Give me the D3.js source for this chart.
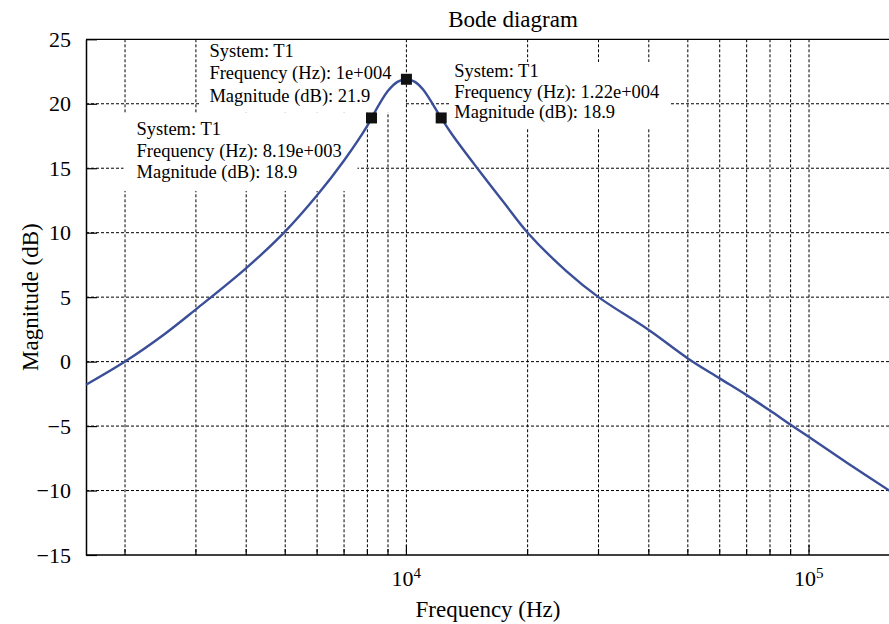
<!DOCTYPE html>
<html>
<head>
<meta charset="utf-8">
<script src="https://cdn.jsdelivr.net/npm/d3@7"></script>
<style>
  body { margin: 0; background: #fff; }
  svg { display: block; font-family: "Liberation Serif", "DejaVu Serif", serif; }
</style>
</head>
<body>
<svg id="chart" width="889" height="624"></svg>
<script>
// magnitude curve (Hz, dB)
const freqs = [1600, 2000, 2500, 3000, 4000, 5000, 6000, 7000, 8000, 8190, 9000, 9500, 10000,
               10500, 11000, 12200, 13000, 15000, 17500, 20000, 25000, 30000, 40000, 50000,
               60000, 70000, 80000, 90000, 100000, 125000, 160000];
const mags  = [-1.8, 0.0, 2.1, 4.05, 7.25, 10.1, 12.9, 15.6, 18.3, 18.9, 21.0, 21.7, 21.9,
               21.7, 21.1, 18.9, 17.6, 15.0, 12.3, 10.0, 7.0, 5.0, 2.45, 0.25,
               -1.3, -2.6, -3.8, -4.9, -5.85, -7.9, -10.1];

const yTicks = [-15, -10, -5, 0, 5, 10, 15, 20, 25];
const xMajor = [1e4, 1e5];
const xMinor = [2000, 3000, 4000, 5000, 6000, 7000, 8000, 9000,
                20000, 30000, 40000, 50000, 60000, 70000, 80000, 90000];

// data tips
const tipFreqs  = [1e4, 8190, 12200];
const tipMags   = [21.9, 18.9, 18.9];
const tipLabels = [
  ["System: T1", "Frequency (Hz): 1e+004", "Magnitude (dB): 21.9"],
  ["System: T1", "Frequency (Hz): 8.19e+003", "Magnitude (dB): 18.9"],
  ["System: T1", "Frequency (Hz): 1.22e+004", "Magnitude (dB): 18.9"]
];
// box / text placement relative to the marker
const tipLayout = [
  { bx: -207, by: -40, bw: 205, bh: 73, tx: -197, ty: -22, gap: 22.2 },
  { bx: -248, by: -5,  bw: 234, bh: 78, tx: -235, ty: 17,  gap: 21.7 },
  { bx: 8,    by: -56, bw: 221, bh: 66, tx: 13,   ty: -41, gap: 20.6 }
];

const svg = d3.select("#chart");
const plotLeft = 86, plotTop = 39.3, plotBottom = 555;
const decade = 402.6;

const x = d3.scaleLog().domain([1600, 160000]).range([plotLeft, plotLeft + 2 * decade]);
const y = d3.scaleLinear().domain([-15, 25]).range([plotBottom, plotTop]);

const ink = "#000";

// grid
const grid = svg.append("g")
    .attr("stroke", ink)
    .attr("stroke-width", 1)
    .attr("stroke-dasharray", "3,2")
    .attr("fill", "none");

grid.selectAll("line.gy")
    .data(yTicks.filter(d => d > -15 && d < 25))
    .enter().append("line")
    .attr("class", "gy")
    .attr("x1", plotLeft).attr("x2", 889)
    .attr("y1", d => y(d)).attr("y2", d => y(d));

grid.selectAll("line.gx")
    .data(xMinor.concat(xMajor))
    .enter().append("line")
    .attr("class", "gx")
    .attr("x1", d => x(d)).attr("x2", d => x(d))
    .attr("y1", plotTop).attr("y2", plotBottom);

// data tip boxes hide the grid underneath
const tips = tipFreqs.map((f, i) => ({ f, m: tipMags[i], lines: tipLabels[i], lay: tipLayout[i] }));

svg.append("g").selectAll("rect")
    .data(tips)
    .enter().append("rect")
    .attr("x", d => x(d.f) + d.lay.bx)
    .attr("y", d => y(d.m) + d.lay.by)
    .attr("width", d => d.lay.bw)
    .attr("height", d => d.lay.bh)
    .attr("fill", "#fff");

// axes
const yAxis = d3.axisLeft(y)
    .tickValues(yTicks)
    .tickSizeInner(-11)
    .tickSizeOuter(0)
    .tickPadding(15);

const gy = svg.append("g")
    .attr("transform", `translate(${plotLeft},0)`)
    .call(yAxis);
gy.select(".domain").attr("stroke", ink).attr("stroke-width", 1.5);
gy.selectAll(".tick line").attr("stroke", ink).attr("stroke-width", 1.2);
gy.selectAll(".tick text")
    .attr("font-family", "Liberation Serif")
    .attr("font-size", 22)
    .attr("fill", ink);

// bottom and top frame lines
svg.append("line")
    .attr("x1", plotLeft).attr("x2", 889)
    .attr("y1", plotBottom).attr("y2", plotBottom)
    .attr("stroke", ink).attr("stroke-width", 1.5);
svg.append("line")
    .attr("x1", plotLeft).attr("x2", 889)
    .attr("y1", plotTop).attr("y2", plotTop)
    .attr("stroke", ink).attr("stroke-width", 1.2);

// inward ticks on the x axis
svg.append("g").selectAll("line")
    .data(xMinor.concat(xMajor))
    .enter().append("line")
    .attr("x1", d => x(d)).attr("x2", d => x(d))
    .attr("y1", plotBottom).attr("y2", d => plotBottom - (xMajor.includes(d) ? 10 : 6))
    .attr("stroke", ink).attr("stroke-width", 1.2);

// x tick labels: 10 with superscript exponent
const xLab = svg.append("g").selectAll("text")
    .data(xMajor)
    .enter().append("text")
    .attr("x", d => x(d) - 15)
    .attr("y", 586)
    .attr("font-size", 22)
    .attr("fill", ink);
xLab.append("tspan").text("10");
xLab.append("tspan")
    .attr("dy", -8)
    .attr("font-size", 15)
    .text(d => Math.round(Math.log10(d)));

// curve
const pts = freqs.map((f, i) => [f, mags[i]]);
const line = d3.line()
    .x(d => x(d[0]))
    .y(d => y(d[1]))
    .curve(d3.curveCatmullRom.alpha(0.5));

svg.append("path")
    .datum(pts)
    .attr("d", line)
    .attr("fill", "none")
    .attr("stroke", "#3b4e98")
    .attr("stroke-width", 2.4);

// markers
svg.append("g").selectAll("rect")
    .data(tips)
    .enter().append("rect")
    .attr("x", d => x(d.f) - 5.5)
    .attr("y", d => y(d.m) - 5.5)
    .attr("width", 11)
    .attr("height", 11)
    .attr("fill", "#111");

// tip texts
const tipText = svg.append("g").selectAll("text")
    .data(tips)
    .enter().append("text")
    .attr("font-size", 18.5)
    .attr("fill", ink);
tipText.selectAll("tspan")
    .data(d => d.lines.map((t, k) => ({ t, k, d })))
    .enter().append("tspan")
    .attr("x", o => x(o.d.f) + o.d.lay.tx)
    .attr("y", o => y(o.d.m) + o.d.lay.ty + o.k * o.d.lay.gap)
    .text(o => o.t);

// titles
svg.append("text")
    .attr("x", 513).attr("y", 27)
    .attr("text-anchor", "middle")
    .attr("font-size", 23)
    .attr("fill", ink)
    .text("Bode diagram");

svg.append("text")
    .attr("x", 488).attr("y", 617)
    .attr("text-anchor", "middle")
    .attr("font-size", 23)
    .attr("fill", ink)
    .text("Frequency (Hz)");

svg.append("text")
    .attr("transform", `translate(38,${(plotTop + plotBottom) / 2}) rotate(-90)`)
    .attr("text-anchor", "middle")
    .attr("font-size", 23)
    .attr("fill", ink)
    .text("Magnitude (dB)");
</script>
</body>
</html>
